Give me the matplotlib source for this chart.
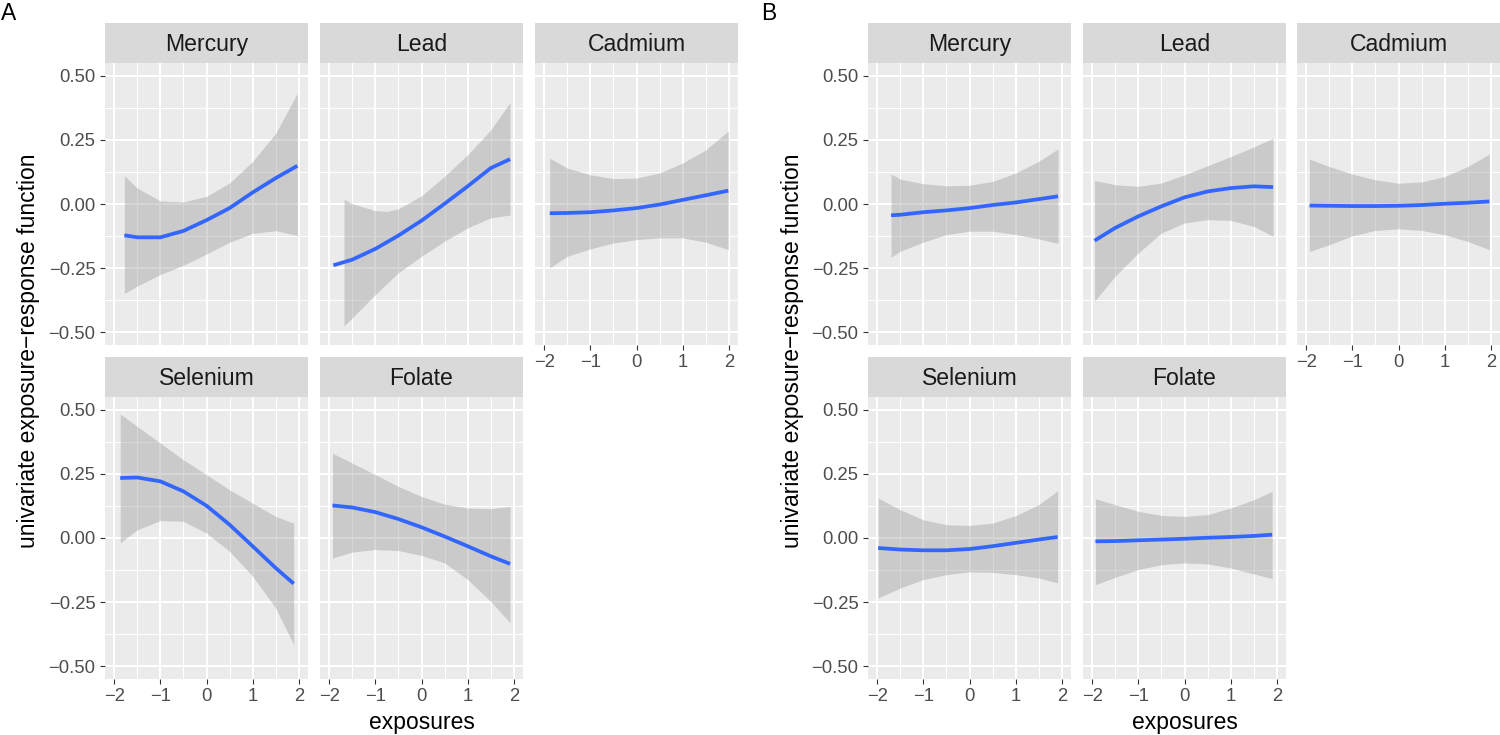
import matplotlib
matplotlib.use("Agg")
from matplotlib import pyplot as plt
from matplotlib.ticker import FixedLocator

plt.rcParams['font.family'] = ['Liberation Sans', 'DejaVu Sans']

# ---- data (exposure, fit, lower, upper) ----
# panel A
merc_a_x = [-1.78, -1.5, -1.0, -0.5, 0.0, 0.5, 1.0, 1.5, 1.97]
merc_a_fit = [-0.122, -0.130, -0.130, -0.105, -0.063, -0.016, 0.045, 0.101, 0.149]
merc_a_lo = [-0.349, -0.320, -0.275, -0.239, -0.195, -0.149, -0.115, -0.104, -0.123]
merc_a_hi = [0.110, 0.062, 0.012, 0.008, 0.030, 0.082, 0.166, 0.276, 0.432]

lead_a_x = [-1.91, -1.5, -1.0, -0.5, 0.0, 0.5, 1.0, 1.5, 1.92]
lead_a_fit = [-0.239, -0.217, -0.175, -0.123, -0.065, 0.001, 0.069, 0.140, 0.175]
lead_a_band_x = [-1.68, -1.5, -1.0, -0.75, -0.5, 0.0, 0.5, 1.0, 1.5, 1.92]
lead_a_lo = [-0.476, -0.444, -0.353, -0.310, -0.268, -0.204, -0.145, -0.093, -0.054, -0.043]
lead_a_hi = [0.019, 0.001, -0.026, -0.029, -0.019, 0.032, 0.108, 0.192, 0.289, 0.396]

cad_a_x = [-1.88, -1.5, -1.0, -0.5, 0.0, 0.5, 1.0, 1.5, 1.99]
cad_a_fit = [-0.036, -0.035, -0.032, -0.025, -0.016, -0.002, 0.016, 0.034, 0.052]
cad_a_lo = [-0.249, -0.204, -0.175, -0.152, -0.139, -0.132, -0.132, -0.149, -0.178]
cad_a_hi = [0.179, 0.140, 0.114, 0.099, 0.101, 0.121, 0.160, 0.211, 0.285]

sel_a_x = [-1.87, -1.5, -1.0, -0.5, 0.0, 0.5, 1.0, 1.5, 1.89]
sel_a_fit = [0.234, 0.236, 0.221, 0.182, 0.126, 0.052, -0.032, -0.117, -0.178]
sel_a_lo = [-0.019, 0.032, 0.068, 0.065, 0.019, -0.052, -0.149, -0.273, -0.416]
sel_a_hi = [0.484, 0.435, 0.370, 0.305, 0.247, 0.188, 0.136, 0.084, 0.058]

fol_a_x = [-1.93, -1.5, -1.0, -0.5, 0.0, 0.5, 1.0, 1.5, 1.92]
fol_a_fit = [0.127, 0.119, 0.101, 0.074, 0.042, 0.006, -0.032, -0.071, -0.101]
fol_a_lo = [-0.078, -0.055, -0.045, -0.049, -0.068, -0.097, -0.162, -0.247, -0.331]
fol_a_hi = [0.331, 0.292, 0.247, 0.201, 0.162, 0.132, 0.117, 0.114, 0.123]

# panel B
merc_b_x = [-1.70, -1.5, -1.0, -0.5, 0.0, 0.5, 1.0, 1.5, 1.92]
merc_b_fit = [-0.044, -0.042, -0.032, -0.025, -0.016, -0.004, 0.006, 0.019, 0.030]
merc_b_lo = [-0.208, -0.184, -0.149, -0.119, -0.106, -0.106, -0.119, -0.136, -0.154]
merc_b_hi = [0.117, 0.097, 0.079, 0.071, 0.073, 0.088, 0.121, 0.166, 0.215]

lead_b_x = [-1.95, -1.5, -1.0, -0.5, 0.0, 0.5, 1.0, 1.5, 1.92]
lead_b_fit = [-0.143, -0.093, -0.048, -0.009, 0.026, 0.049, 0.062, 0.069, 0.066]
lead_b_lo = [-0.379, -0.281, -0.191, -0.113, -0.074, -0.061, -0.064, -0.087, -0.126]
lead_b_hi = [0.092, 0.075, 0.069, 0.082, 0.114, 0.149, 0.185, 0.222, 0.257]

cad_b_x = [-1.93, -1.5, -1.0, -0.5, 0.0, 0.5, 1.0, 1.5, 1.97]
cad_b_fit = [-0.006, -0.007, -0.008, -0.008, -0.007, -0.004, 0.001, 0.005, 0.010]
cad_b_lo = [-0.185, -0.159, -0.124, -0.103, -0.097, -0.103, -0.120, -0.146, -0.178]
cad_b_hi = [0.175, 0.146, 0.117, 0.094, 0.081, 0.086, 0.107, 0.146, 0.195]

sel_b_x = [-1.98, -1.5, -1.0, -0.5, 0.0, 0.5, 1.0, 1.5, 1.91]
sel_b_fit = [-0.039, -0.045, -0.048, -0.048, -0.043, -0.032, -0.019, -0.006, 0.004]
sel_b_lo = [-0.234, -0.195, -0.162, -0.143, -0.132, -0.134, -0.143, -0.156, -0.175]
sel_b_hi = [0.156, 0.110, 0.071, 0.052, 0.049, 0.058, 0.087, 0.130, 0.184]

fol_b_x = [-1.93, -1.5, -1.0, -0.5, 0.0, 0.5, 1.0, 1.5, 1.90]
fol_b_fit = [-0.013, -0.012, -0.009, -0.006, -0.003, 0.001, 0.004, 0.008, 0.013]
fol_b_lo = [-0.182, -0.153, -0.123, -0.104, -0.097, -0.101, -0.117, -0.140, -0.158]
fol_b_hi = [0.153, 0.130, 0.104, 0.088, 0.084, 0.091, 0.117, 0.149, 0.182]

x_ticks = [-2, -1, 0, 1, 2]
x_labels = ['\u22122', '\u22121', '0', '1', '2']
y_ticks = [-0.5, -0.25, 0.0, 0.25, 0.5]
y_labels = ['\u22120.50', '\u22120.25', '0.00', '0.25', '0.50']

W, H = 1500, 735
fig = plt.figure(figsize=(W / 100, H / 100), dpi=100)

PW = 203        # panel width in px
PH = 282        # panel height in px
SH = 40         # strip height in px


def panel(left, top, title, x, fit, lo, hi, band_x=None, show_x=False, show_y=False):
    # strip on top of the panel
    sax = fig.add_axes([left / W, 1 - (top + SH) / H, PW / W, SH / H])
    sax.set_facecolor('#D9D9D9')
    sax.set_xticks([])
    sax.set_yticks([])
    for s in sax.spines.values():
        s.set_visible(False)
    sax.text(0.5, 0.47, title, ha='center', va='center', fontsize=16.6,
             color='#1A1A1A', transform=sax.transAxes)

    ax = fig.add_axes([left / W, 1 - (top + SH + PH) / H, PW / W, PH / H])
    ax.set_facecolor('#EBEBEB')
    for s in ax.spines.values():
        s.set_visible(False)
    ax.set_xlim(-2.2, 2.2)
    ax.set_ylim(-0.55, 0.55)
    ax.xaxis.set_major_locator(FixedLocator(x_ticks))
    ax.xaxis.set_minor_locator(FixedLocator([-1.5, -0.5, 0.5, 1.5]))
    ax.yaxis.set_major_locator(FixedLocator(y_ticks))
    ax.yaxis.set_minor_locator(FixedLocator([-0.375, -0.125, 0.125, 0.375]))
    ax.grid(which='major', color='white', lw=1.5)
    ax.grid(which='minor', color='white', lw=0.75)
    ax.set_axisbelow(True)
    ax.tick_params(which='minor', length=0)
    ax.tick_params(which='major', length=3.6, width=0.8, color='#333333',
                   labelsize=13.3, labelcolor='#4D4D4D', pad=3.2)
    if show_x:
        ax.set_xticklabels(x_labels)
    else:
        ax.tick_params(axis='x', length=0, labelbottom=False)
    if show_y:
        ax.set_yticklabels(y_labels)
    else:
        ax.tick_params(axis='y', length=0, labelleft=False)

    if band_x is None:
        band_x = x
    ax.fill_between(band_x, lo, hi, color='#999999', alpha=0.4, lw=0)
    ax.plot(x, fit, color='#3366FF', lw=2.7, solid_capstyle='butt')
    return ax


ROW1 = 23
ROW2 = 357

# panel A
panel(105, ROW1, 'Mercury', merc_a_x, merc_a_fit, merc_a_lo, merc_a_hi, show_y=True)
panel(320, ROW1, 'Lead', lead_a_x, lead_a_fit, lead_a_lo, lead_a_hi, band_x=lead_a_band_x)
panel(535, ROW1, 'Cadmium', cad_a_x, cad_a_fit, cad_a_lo, cad_a_hi, show_x=True)
panel(105, ROW2, 'Selenium', sel_a_x, sel_a_fit, sel_a_lo, sel_a_hi, show_x=True, show_y=True)
panel(320, ROW2, 'Folate', fol_a_x, fol_a_fit, fol_a_lo, fol_a_hi, show_x=True)

# panel B
panel(868, ROW1, 'Mercury', merc_b_x, merc_b_fit, merc_b_lo, merc_b_hi, show_y=True)
panel(1083, ROW1, 'Lead', lead_b_x, lead_b_fit, lead_b_lo, lead_b_hi)
panel(1297, ROW1, 'Cadmium', cad_b_x, cad_b_fit, cad_b_lo, cad_b_hi, show_x=True)
panel(868, ROW2, 'Selenium', sel_b_x, sel_b_fit, sel_b_lo, sel_b_hi, show_x=True, show_y=True)
panel(1083, ROW2, 'Folate', fol_b_x, fol_b_fit, fol_b_lo, fol_b_hi, show_x=True)

# titles and labels
ylab = 'univariate exposure\u2212response function'
fig.text(29 / W, 1 - 351 / H, ylab, rotation=90, ha='center', va='center', fontsize=16.5)
fig.text(792 / W, 1 - 351 / H, ylab, rotation=90, ha='center', va='center', fontsize=16.5)
fig.text(421.5 / W, 1 - 723 / H, 'exposures', ha='center', va='center', fontsize=16.5)
fig.text(1184.5 / W, 1 - 723 / H, 'exposures', ha='center', va='center', fontsize=16.5)
fig.text(1 / W, 1 - 13 / H, 'A', ha='left', va='center', fontsize=16.5)
fig.text(761 / W, 1 - 13 / H, 'B', ha='left', va='center', fontsize=16.5)

fig.savefig('out.png', dpi=100, facecolor='white')
